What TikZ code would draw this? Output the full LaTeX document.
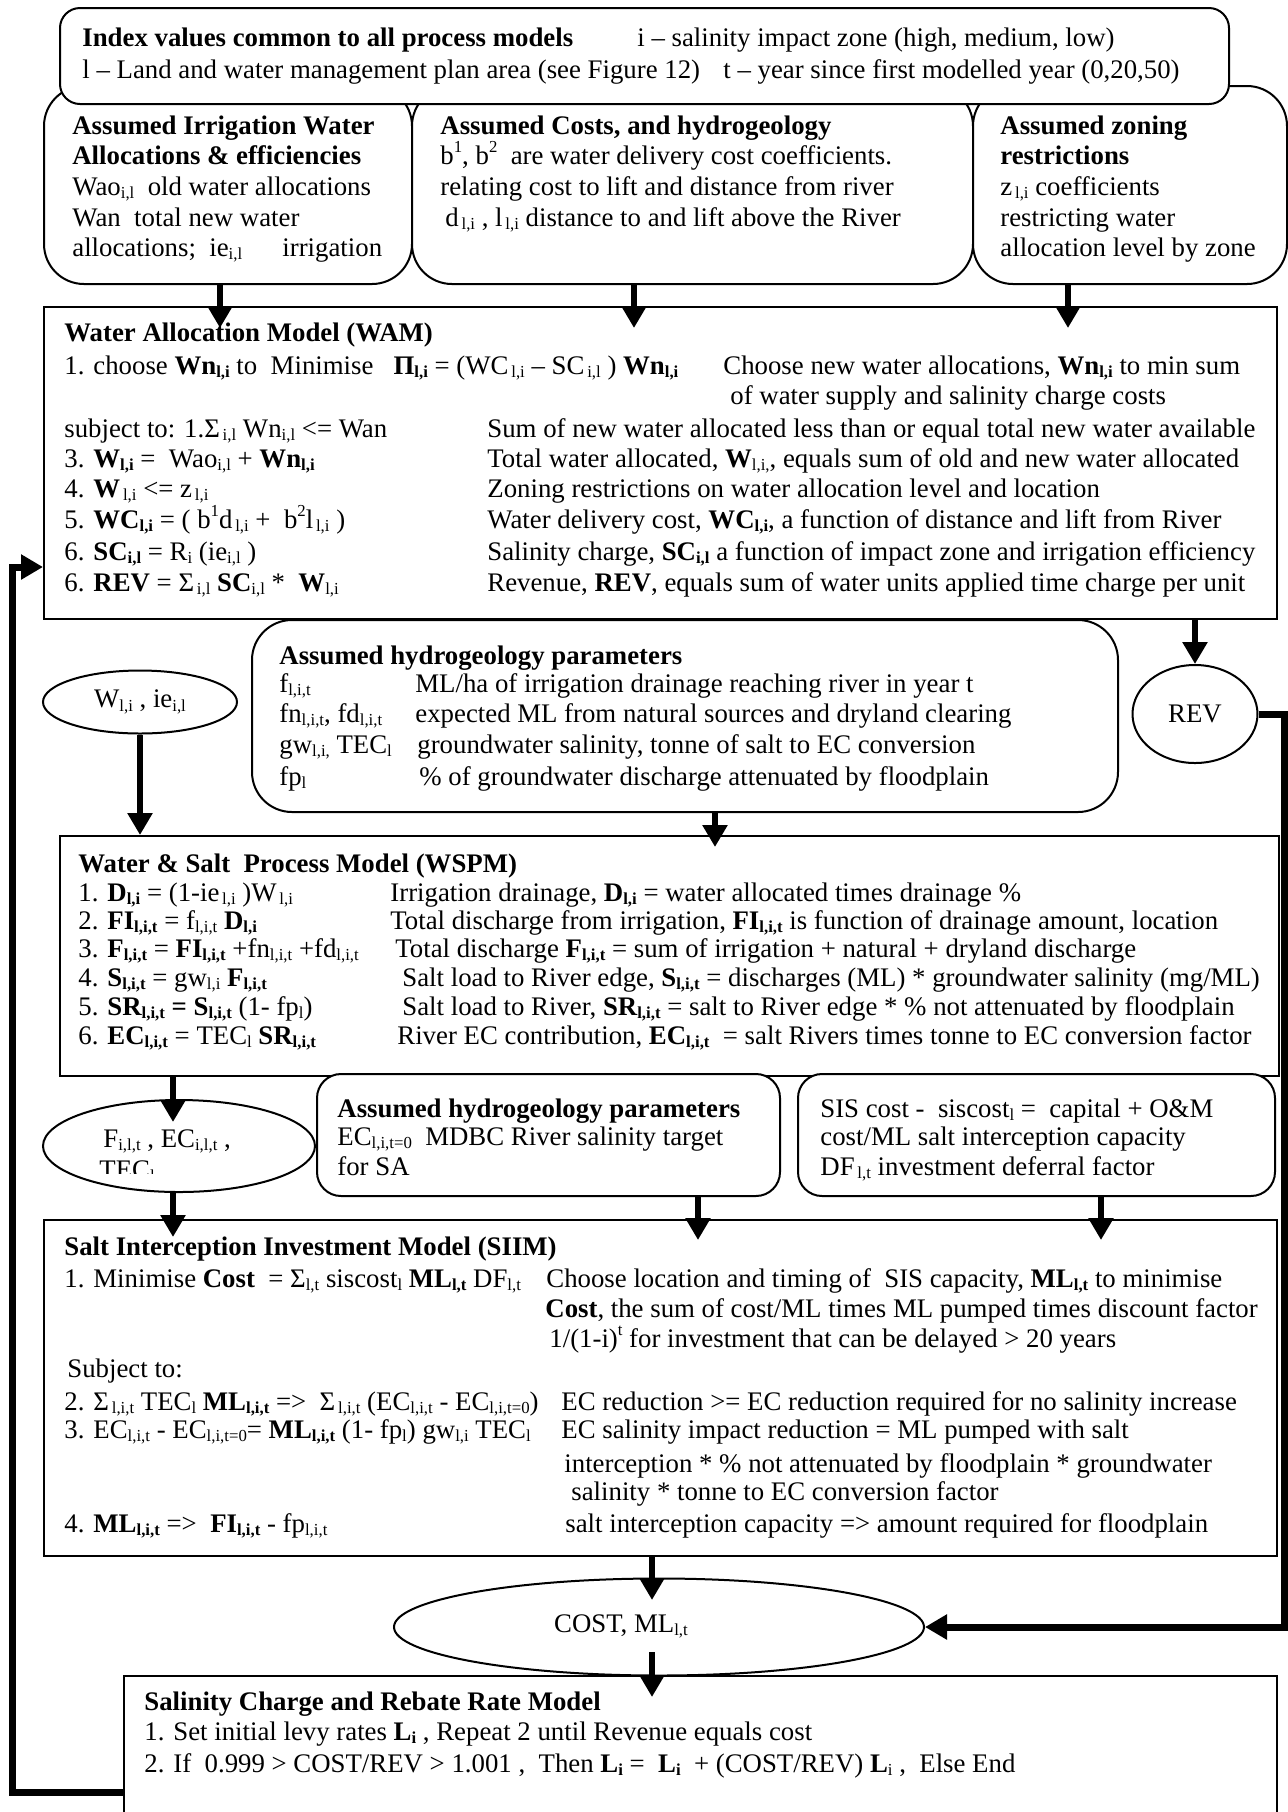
\documentclass[tikz,border=0pt]{standalone}
\usepackage{fontspec}
\setmainfont{Liberation Serif}
\usetikzlibrary{arrows.meta,shapes.geometric}
\newcommand{\Ssub}[1]{\raisebox{-0.3ex}{\fontsize{8.4}{9}\selectfont #1}}
\newcommand{\Ssup}[1]{\raisebox{0.9ex}{\fontsize{8.4}{9}\selectfont #1}}
\begin{document}
\begin{tikzpicture}[x=0.5pt,y=-0.5pt,
  font=\fontsize{13.4}{16}\selectfont,
  box/.style={draw, line width=1pt, fill=white, anchor=north west, inner sep=0pt},
  rbox/.style={box, rounded corners=#1},
  ell/.style={draw, line width=1pt, fill=white, ellipse, inner sep=0pt},
  txt/.style={anchor=base west, inner sep=0pt},
  arr/.style={line width=3pt, -{Triangle[length=11pt,width=12pt]}},
  fb/.style={line width=3.5pt, line join=miter, -{Triangle[length=11pt,width=12pt]}}]
\clip (0,0) rectangle (1288,1812);
\fill[white] (0,0) rectangle (1288,1812);

% ---------- boxes ----------
\node[rbox=20pt, minimum width=184pt, minimum height=99pt] (irr) at (43,85) {};
\node[rbox=20pt, minimum width=280.5pt, minimum height=99pt] (cst) at (411,85) {};
\node[rbox=20pt, minimum width=157pt, minimum height=99pt] (zon) at (972,85) {};
\node[rbox=10pt, minimum width=584.5pt, minimum height=48pt] (top) at (59,7) {};
\node[box, minimum width=616.5pt, minimum height=156pt] (wam) at (43,306) {};
\node[rbox=20pt, minimum width=433pt, minimum height=96pt] (hyd) at (251,619) {};
\node[ell, minimum width=97pt, minimum height=31.5pt] (wel) at (140,702) {W\Ssub{l,i} , ie\Ssub{i,l}};
\node[ell, minimum width=62.5pt, minimum height=49pt] (rev) at (1195,714) {REV};
\node[box, minimum width=609.5pt, minimum height=120pt] (wspm) at (59,835) {};
\node[rbox=12pt, minimum width=231.5pt, minimum height=61pt] (hyd2) at (316,1073) {};
\node[rbox=12pt, minimum width=238.5pt, minimum height=61pt] (sis) at (797,1073) {};
\node[ell, minimum width=136pt, minimum height=46pt] (fel) at (179,1146) {};
\node[box, minimum width=616.5pt, minimum height=168pt] (siim) at (43,1219) {};
\node[ell, minimum width=265pt, minimum height=48.5pt] (cel) at (659,1627) {};
\node[box, minimum width=576.5pt, minimum height=90pt] (scr) at (123,1675) {};

% ---------- top box text ----------
\node[txt] (a1) at (82,46) {\textbf{Index values common to all process models}};
\node[txt] (a2) at (637,46) {i – salinity impact zone (high, medium, low)};
\node[txt] (a3) at (82,78) {l – Land and water management plan area (see Figure 12)};
\node[txt] (a4) at (723,78) {t – year since first modelled year (0,20,50)};

% ---------- irrigation box ----------
\node[txt] (b1) at (72,134) {\textbf{Assumed Irrigation Water}};
\node[txt] (b2) at (72,164) {\textbf{Allocations \& efficiencies}};
\node[txt] (b3) at (72,195) {Wao\Ssub{i,l}\ \ old water allocations};
\node[txt] (b4) at (72,226) {Wan\ \ total new water};
\node[txt] (b5) at (72,256) {allocations;\ \ ie\Ssub{i,l}};
\node[txt] (b6) at (282,256) {irrigation};

% ---------- costs box ----------
\node[txt] (c1) at (440,134) {\textbf{Assumed Costs, and hydrogeology}};
\node[txt] (c2) at (440,164) {b\Ssup{1}, b\Ssup{2}\ \ are water delivery cost coefficients.};
\node[txt] (c3) at (440,195) {relating cost to lift and distance from river};
\node[txt] (c4) at (445,226) {d\Ssub{\,l,i} , l\Ssub{\,l,i} distance to and lift above the River};

% ---------- zoning box ----------
\node[txt] (d1) at (1000,134) {\textbf{Assumed zoning}};
\node[txt] (d2) at (1000,164) {\textbf{restrictions}};
\node[txt] (d3) at (1000,195) {z\Ssub{\,l,i} coefficients};
\node[txt] (d4) at (1000,226) {restricting water};
\node[txt] (d5) at (1000,256) {allocation level by zone};

% ---------- WAM ----------
\node[txt] (e1) at (64,341) {\textbf{Water Allocation Model (WAM)}};
\node[txt] (e2) at (64,374) {1. choose \textbf{Wn\Ssub{l,i}} to\ \ Minimise\ \ \ \textbf{Π\Ssub{l,i}} = (WC\Ssub{\,l,i} – SC\Ssub{\,i,l} ) \textbf{Wn\Ssub{l,i}}};
\node[txt] (e3) at (723,374) {Choose new water allocations, \textbf{Wn\Ssub{l,i}} to min sum};
\node[txt] (e4) at (730,404) {of water supply and salinity charge costs};
\node[txt] (e5) at (64,437) {subject to: 1.Σ\Ssub{\,i,l} Wn\Ssub{i,l} <= Wan};
\node[txt] (e6) at (487,437) {Sum of new water allocated less than or equal total new water available};
\node[txt] (e7) at (64,467) {3. \textbf{W\Ssub{l,i}} =\ \ Wao\Ssub{i,l} + \textbf{Wn\Ssub{l,i}}};
\node[txt] (e8) at (487,467) {Total water allocated, \textbf{W}\Ssub{l,i,}, equals sum of old and new water allocated};
\node[txt] (e9) at (64,497) {4. \textbf{W}\Ssub{\,l,i} <= z\Ssub{\,l,i}};
\node[txt] (e10) at (487,497) {Zoning restrictions on water allocation level and location};
\node[txt] (e11) at (64,528) {5. \textbf{WC\Ssub{l,i}} = ( b\Ssup{1}d\Ssub{\,l,i} +\ \ b\Ssup{2}l\Ssub{\,l,i} )};
\node[txt] (e12) at (487,528) {Water delivery cost, \textbf{WC\Ssub{l,i}}, a function of distance and lift from River};
\node[txt] (e13) at (64,560) {6. \textbf{SC\Ssub{i,l}} = R\Ssub{i} (ie\Ssub{i,l} )};
\node[txt] (e14) at (487,560) {Salinity charge, \textbf{SC\Ssub{i,l}} a function of impact zone and irrigation efficiency};
\node[txt] (e15) at (64,591) {6. \textbf{REV} = Σ\Ssub{\,i,l} \textbf{SC}\Ssub{i,l} *\ \ \textbf{W}\Ssub{l,i}};
\node[txt] (e16) at (487,591) {Revenue, \textbf{REV}, equals sum of water units applied time charge per unit};

% ---------- hydrogeology box ----------
\node[txt] (f1) at (279,664) {\textbf{Assumed hydrogeology parameters}};
\node[txt] (f2) at (279,692) {f\Ssub{l,i,t}};
\node[txt] (f3) at (415,692) {ML/ha of irrigation drainage reaching river in year t};
\node[txt] (f4) at (279,722) {fn\Ssub{l,i,t}, fd\Ssub{l,i,t}};
\node[txt] (f5) at (415,722) {expected ML from natural sources and dryland clearing};
\node[txt] (f6) at (279,753) {gw\Ssub{l,i,} TEC\Ssub{l}};
\node[txt] (f7) at (417,753) {groundwater salinity, tonne of salt to EC conversion};
\node[txt] (f8) at (279,785) {fp\Ssub{l}};
\node[txt] (f9) at (419,785) {\% of groundwater discharge attenuated by floodplain};

% ---------- WSPM ----------
\node[txt] (g1) at (78,872) {\textbf{Water \& Salt\ \ Process Model (WSPM)}};
\node[txt] (g2) at (78,901) {1. \textbf{D\Ssub{l,i}} = (1-ie\Ssub{\,l,i} )W\Ssub{\,l,i}};
\node[txt] (g3) at (390,901) {Irrigation drainage, \textbf{D\Ssub{l,i}} = water allocated times drainage \%};
\node[txt] (g4) at (78,929) {2. \textbf{FI\Ssub{l,i,t}} = f\Ssub{l,i,t} \textbf{D\Ssub{l,i}}};
\node[txt] (g5) at (390,929) {Total discharge from irrigation, \textbf{FI\Ssub{l,i,t}} is function of drainage amount, location};
\node[txt] (g6) at (78,957) {3. \textbf{F\Ssub{l,i,t}} = \textbf{FI\Ssub{l,i,t}} +fn\Ssub{l,i,t} +fd\Ssub{l,i,t}};
\node[txt] (g7) at (395,957) {Total discharge \textbf{F\Ssub{l,i,t}} = sum of irrigation + natural + dryland discharge};
\node[txt] (g8) at (78,986) {4. \textbf{S\Ssub{l,i,t}} = gw\Ssub{l,i} \textbf{F\Ssub{l,i,t}}};
\node[txt] (g9) at (402,986) {Salt load to River edge, \textbf{S\Ssub{l,i,t}} = discharges (ML) * groundwater salinity (mg/ML)};
\node[txt] (g10) at (78,1015) {5. \textbf{SR\Ssub{l,i,t} = S\Ssub{l,i,t}} (1- fp\Ssub{l})};
\node[txt] (g11) at (402,1015) {Salt load to River, \textbf{SR\Ssub{l,i,t}} = salt to River edge * \% not attenuated by floodplain};
\node[txt] (g12) at (78,1044) {6. \textbf{EC\Ssub{l,i,t}} = TEC\Ssub{l} \textbf{SR\Ssub{l,i,t}}};
\node[txt] (g13) at (397,1044) {River EC contribution, \textbf{EC\Ssub{l,i,t}}\ \ = salt Rivers times tonne to EC conversion factor};

% ---------- F ellipse text (clipped) ----------
\begin{scope}
\clip (0,1100) rectangle (330,1173);
\node[txt] (h1) at (103,1147) {F\Ssub{i,l,t} , EC\Ssub{i,l,t} ,};
\node[txt] (h2) at (99,1178) {TEC\Ssub{l}};
\end{scope}

% ---------- hydro2 / SIS ----------
\node[txt] (i1) at (337,1117) {\textbf{Assumed hydrogeology parameters}};
\node[txt] (i2) at (337,1145) {EC\Ssub{l,i,t=0}\ \ MDBC River salinity target};
\node[txt] (i3) at (337,1175) {for SA};
\node[txt] (j1) at (820,1117) {SIS cost -\ \ siscost\Ssub{l} =\ \ capital + O\&M};
\node[txt] (j2) at (820,1145) {cost/ML salt interception capacity};
\node[txt] (j3) at (820,1175) {DF\Ssub{\,l,t} investment deferral factor};

% ---------- SIIM ----------
\node[txt] (k1) at (64,1255) {\textbf{Salt Interception Investment Model (SIIM)}};
\node[txt] (k2) at (64,1287) {1. Minimise \textbf{Cost}\ \ = Σ\Ssub{l,t} siscost\Ssub{l} \textbf{ML\Ssub{l,t}} DF\Ssub{l,t}};
\node[txt] (k3) at (546,1287) {Choose location and timing of\ \ SIS capacity, \textbf{ML\Ssub{l,t}} to minimise};
\node[txt] (k4) at (545,1317) {\textbf{Cost}, the sum of cost/ML times ML pumped times discount factor};
\node[txt] (k5) at (549,1347) {1/(1-i)\Ssup{t} for investment that can be delayed > 20 years};
\node[txt] (k6) at (67,1377) {Subject to:};
\node[txt] (k7) at (64,1410) {2. Σ\Ssub{\,l,i,t} TEC\Ssub{l} \textbf{ML\Ssub{l,i,t}} =>\ \ Σ\Ssub{\,l,i,t} (EC\Ssub{l,i,t} - EC\Ssub{l,i,t=0})};
\node[txt] (k8) at (561,1410) {EC reduction >= EC reduction required for no salinity increase};
\node[txt] (k9) at (64,1438) {3. EC\Ssub{l,i,t} - EC\Ssub{l,i,t=0}= \textbf{ML\Ssub{l,i,t}} (1- fp\Ssub{l}) gw\Ssub{l,i} TEC\Ssub{l}};
\node[txt] (k10) at (561,1438) {EC salinity impact reduction = ML pumped with salt};
\node[txt] (k11) at (564,1472) {interception * \% not attenuated by floodplain * groundwater};
\node[txt] (k12) at (571,1500) {salinity * tonne to EC conversion factor};
\node[txt] (k13) at (64,1532) {4. \textbf{ML\Ssub{l,i,t}} =>\ \ \textbf{FI\Ssub{l,i,t}} - fp\Ssub{l,i,t}};
\node[txt] (k14) at (565,1532) {salt interception capacity => amount required for floodplain};

% ---------- COST ellipse ----------
\node[anchor=base, inner sep=0pt] (l1) at (621,1632) {COST, ML\Ssub{l,t}};

% ---------- SCR ----------
\node[txt] (m1) at (144,1710) {\textbf{Salinity Charge and Rebate Rate Model}};
\node[txt] (m2) at (144,1740) {1. Set initial levy rates \textbf{L\Ssub{i}} , Repeat 2 until Revenue equals cost};
\node[txt] (m3) at (144,1772) {2. If\ \ 0.999 > COST/REV > 1.001 ,\ \ Then \textbf{L\Ssub{i}} =\ \ \textbf{L\Ssub{i}}\ \ + (COST/REV) \textbf{L}\Ssub{i} ,\ \ Else End};

% ---------- connectors ----------
\coordinate (p1) at (220,328);
\coordinate (p2) at (634,328);
\coordinate (p3) at (1068,328);
\coordinate (p4) at (715,847);
\coordinate (p11) at (173,1122);
\coordinate (p5) at (173,1237);
\coordinate (p6) at (698,1240);
\coordinate (p7) at (1101,1240);
\coordinate (p8) at (652,1600);
\coordinate (p9) at (652,1652);
\coordinate (p10) at (652,1697);
\coordinate (q1) at (12,1792);
\coordinate (q2) at (12,567);
\coordinate (r1) at (1284,0);

\draw[arr] (irr.south -| p1) -- (p1);
\draw[arr] (cst.south -| p2) -- (p2);
\draw[arr] (zon.south -| p3) -- (p3);
\draw[arr] (wam.south -| rev.north) -- (rev.north);
\draw[arr] (wel.south) -- (wel.south |- wspm.north);
\draw[arr] (hyd.south -| p4) -- (p4);
\draw[arr] (wspm.south -| p11) -- (p11);
\draw[arr] (fel.south -| p5) -- (p5);
\draw[arr] (hyd2.south -| p6) -- (p6);
\draw[arr] (sis.south -| p7) -- (p7);
\draw[arr] (siim.south -| p8) -- (p8);
\draw[arr] (p9) -- (p10);
\draw[fb] (scr.west |- q1) -- (q1) -- (q2) -- (wam.west |- q2);
\draw[fb] (rev.east) -- (rev.east -| r1) -- (r1 |- cel.east) -- (cel.east);
\end{tikzpicture}
\end{document}
